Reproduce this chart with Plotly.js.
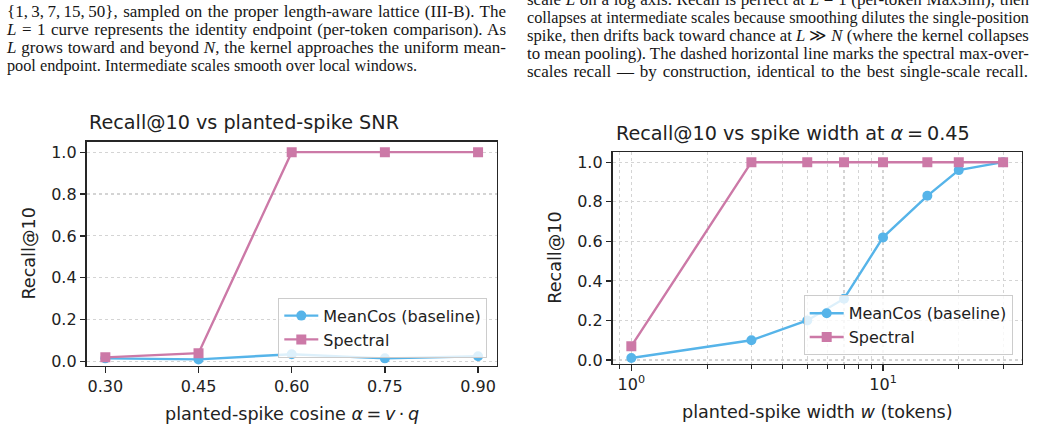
<!DOCTYPE html>
<html>
<head>
<meta charset="utf-8">
<script src="https://cdn.plot.ly/plotly-3.0.1.min.js"></script>
<style>
  html, body { margin: 0; padding: 0; background: #ffffff; }
  #page { position: relative; width: 1041px; height: 430px; overflow: hidden; background: #ffffff; }
  #chart { position: absolute; left: 0; top: 0; width: 1041px; height: 430px; }
  .para-line {
    position: absolute;
    font-family: "Liberation Serif", "Times New Roman", serif;
    font-size: 17px;
    line-height: 18px;
    color: #161616;
    white-space: nowrap;
    text-align: justify;
    text-align-last: justify;
    transform-origin: 0 50%;
  }
</style>
</head>
<body>
<div id="page">
  <div id="chart"></div>
</div>
<script>
// ---- Panel (a): recall vs planted-spike cosine ----
const snrAlpha = [0.30, 0.45, 0.60, 0.75, 0.90];
const snrTickLabels = ['0.30', '0.45', '0.60', '0.75', '0.90'];
const snrMeanCos = [0.015, 0.01, 0.035, 0.015, 0.025];
const snrSpectral = [0.02, 0.04, 1.0, 1.0, 1.0];

// ---- Panel (b): recall vs spike width at alpha = 0.45 ----
const spikeWidth = [1, 3, 5, 7, 10, 15, 20, 30];
const widthMeanCos = [0.01, 0.10, 0.20, 0.31, 0.62, 0.83, 0.96, 1.0];
const widthSpectral = [0.07, 1.0, 1.0, 1.0, 1.0, 1.0, 1.0, 1.0];
const logMajorTicks = [1, 10];
const logMajorLabels = ['10<sup>0</sup>', '10<sup>1</sup>'];
const logMinorTicks = [0.9, 2, 3, 4, 5, 6, 7, 8, 9, 20, 30];

// ---- shared recall axis ----
const recallTicks = [0, 0.2, 0.4, 0.6, 0.8, 1.0];
const recallTickLabels = ['0.0', '0.2', '0.4', '0.6', '0.8', '1.0'];

// ---- surrounding body text (two justified columns) ----
const leftColumnLines = [
  '{1,&#8201;3,&#8201;7,&#8201;15,&#8201;50}, sampled on the proper length-aware lattice (III-B). The',
  '<i>L</i> = 1 curve represents the identity endpoint (per-token comparison). As',
  '<i>L</i> grows toward and beyond <i>N</i>, the kernel approaches the uniform mean-',
  'pool endpoint. Intermediate scales smooth over local windows.'
];
const leftLineWidths = [499, 499, 499, 410];
const rightColumnLines = [
  'scale <i>L</i> on a log axis. Recall is perfect at <i>L</i> = 1 (per-token MaxSim), then',
  'collapses at intermediate scales because smoothing dilutes the single-position',
  'spike, then drifts back toward chance at <i>L</i> &#8811; <i>N</i> (where the kernel collapses',
  'to mean pooling). The dashed horizontal line marks the spectral max-over-',
  'scales recall \u2014 by construction, identical to the best single-scale recall.'
];
const rightLineWidths = [502, 502, 502, 502, 501];

const W = 1041, H = 430;
const BLUE = '#56B4E9';
const PINK = '#CC79A7';
const INK = '#222222';
const SPINE = '#262626';
const GRID = '#d4d4d4';
const SANS = 'DejaVu Sans, sans-serif';

// pixel helpers for paper-referenced placement
const px = v => v / W;
const py = v => 1 - v / H;

// body text columns: each line is justified to its width, and squeezed
// horizontally if its natural width is larger than the column
function placeColumn(lines, widths, left, firstBaseline) {
  const page = document.getElementById('page');
  lines.forEach((txt, i) => {
    const d = document.createElement('div');
    d.className = 'para-line';
    d.style.left = left + 'px';
    d.style.width = widths[i] + 'px';
    d.style.top = (firstBaseline + i * 18 - 14.5) + 'px';
    d.innerHTML = txt;
    page.appendChild(d);
    const natural = d.scrollWidth;
    if (natural > widths[i] + 0.5) {
      d.style.textAlign = 'left';
      d.style.textAlignLast = 'left';
      d.style.transform = 'scaleX(' + (widths[i] / natural).toFixed(4) + ')';
    }
  });
}
placeColumn(leftColumnLines, leftLineWidths, 7, 17);
placeColumn(rightColumnLines, rightLineWidths, 527, 5.5);

const axisBase = {
  showline: true, mirror: true, linecolor: SPINE, linewidth: 1.3,
  ticks: 'outside', ticklen: 5.6, tickwidth: 1.3, tickcolor: SPINE,
  tickfont: { family: SANS, size: 16, color: INK },
  zeroline: false, showgrid: false, fixedrange: true
};
const gridStyle = { showgrid: true, gridcolor: GRID, gridwidth: 1.1, griddash: 'dot' };

const traces = [
  {
    x: snrAlpha, y: snrMeanCos, name: 'MeanCos (baseline)', type: 'scatter', mode: 'lines+markers',
    line: { color: BLUE, width: 2.4 }, marker: { symbol: 'circle', size: 10, color: BLUE },
    xaxis: 'x', yaxis: 'y', legend: 'legend'
  },
  {
    x: snrAlpha, y: snrSpectral, name: 'Spectral', type: 'scatter', mode: 'lines+markers',
    line: { color: PINK, width: 2.4 }, marker: { symbol: 'square', size: 10, color: PINK },
    xaxis: 'x', yaxis: 'y', legend: 'legend'
  },
  {
    x: spikeWidth, y: widthMeanCos, name: 'MeanCos (baseline)', type: 'scatter', mode: 'lines+markers',
    line: { color: BLUE, width: 2.4 }, marker: { symbol: 'circle', size: 10, color: BLUE },
    xaxis: 'x2', yaxis: 'y2', legend: 'legend2'
  },
  {
    x: spikeWidth, y: widthSpectral, name: 'Spectral', type: 'scatter', mode: 'lines+markers',
    line: { color: PINK, width: 2.4 }, marker: { symbol: 'square', size: 10, color: PINK },
    xaxis: 'x2', yaxis: 'y2', legend: 'legend2'
  }
];

const legendBase = {
  xref: 'paper', yref: 'paper', xanchor: 'right', yanchor: 'bottom',
  bgcolor: 'rgba(255,255,255,0.8)', bordercolor: '#cccccc', borderwidth: 1,
  font: { family: SANS, size: 16, color: INK }, itemwidth: 34, tracegroupgap: 0
};

const annBase = { xref: 'paper', yref: 'paper', showarrow: false };

const layout = {
  width: W, height: H,
  margin: { l: 0, r: 0, t: 0, b: 0, pad: 0 },
  paper_bgcolor: 'rgba(0,0,0,0)', plot_bgcolor: '#ffffff',
  showlegend: true,
  xaxis: Object.assign({}, axisBase, {
    domain: [px(86.7), px(496.7)], range: [0.27, 0.93], anchor: 'y',
    tickmode: 'array', tickvals: snrAlpha, ticktext: snrTickLabels
  }),
  yaxis: Object.assign({}, axisBase, gridStyle, {
    domain: [py(365.7), py(141.7)], range: [-0.02, 1.05], anchor: 'x',
    tickmode: 'array', tickvals: recallTicks, ticktext: recallTickLabels
  }),
  xaxis2: Object.assign({}, axisBase, gridStyle, {
    type: 'log', domain: [px(612.7), px(1021.7)], range: [-0.074, 1.551], anchor: 'y2',
    tickmode: 'array', tickvals: logMajorTicks, ticktext: logMajorLabels,
    minor: {
      tickmode: 'array', tickvals: logMinorTicks, ticks: 'outside', ticklen: 3.2,
      tickwidth: 1, tickcolor: SPINE, showgrid: true, gridcolor: GRID, gridwidth: 1.1, griddash: 'dot'
    }
  }),
  yaxis2: Object.assign({}, axisBase, gridStyle, {
    domain: [py(364), py(152.3)], range: [-0.02, 1.05], anchor: 'x2',
    tickmode: 'array', tickvals: recallTicks, ticktext: recallTickLabels
  }),
  legend: Object.assign({}, legendBase, { x: px(487.3), y: py(357.7) }),
  legend2: Object.assign({}, legendBase, { x: px(1012.7), y: py(355.3) }),
  annotations: [
    Object.assign({}, annBase, {
      text: 'Recall@10 vs planted-spike SNR', x: px(87), y: py(122.7),
      xanchor: 'left', yanchor: 'middle', font: { family: SANS, size: 19.2, color: INK }
    }),
    Object.assign({}, annBase, {
      text: 'Recall@10 vs spike width at <i>α</i>\u2009=\u20090.45', x: px(614), y: py(133.4),
      xanchor: 'left', yanchor: 'middle', font: { family: SANS, size: 19.2, color: INK }
    }),
    Object.assign({}, annBase, {
      text: 'planted-spike cosine <i>α</i>\u2009=\u2009<i>v</i>\u2009·\u2009<i>q</i>', x: px(291.7), y: py(413.9),
      xanchor: 'center', yanchor: 'middle', font: { family: SANS, size: 17.6, color: INK }
    }),
    Object.assign({}, annBase, {
      text: 'planted-spike width <i>w</i> (tokens)', x: px(817.2), y: py(412.2),
      xanchor: 'center', yanchor: 'middle', font: { family: SANS, size: 17.6, color: INK }
    }),
    Object.assign({}, annBase, {
      text: 'Recall@10', x: px(28.9), y: py(253.7), textangle: -90,
      xanchor: 'center', yanchor: 'middle', font: { family: SANS, size: 17.6, color: INK }
    }),
    Object.assign({}, annBase, {
      text: 'Recall@10', x: px(555.6), y: py(258.2), textangle: -90,
      xanchor: 'center', yanchor: 'middle', font: { family: SANS, size: 17.6, color: INK }
    })
  ]
};

Plotly.newPlot('chart', traces, layout, { displayModeBar: false, staticPlot: true });
</script>
</body>
</html>
